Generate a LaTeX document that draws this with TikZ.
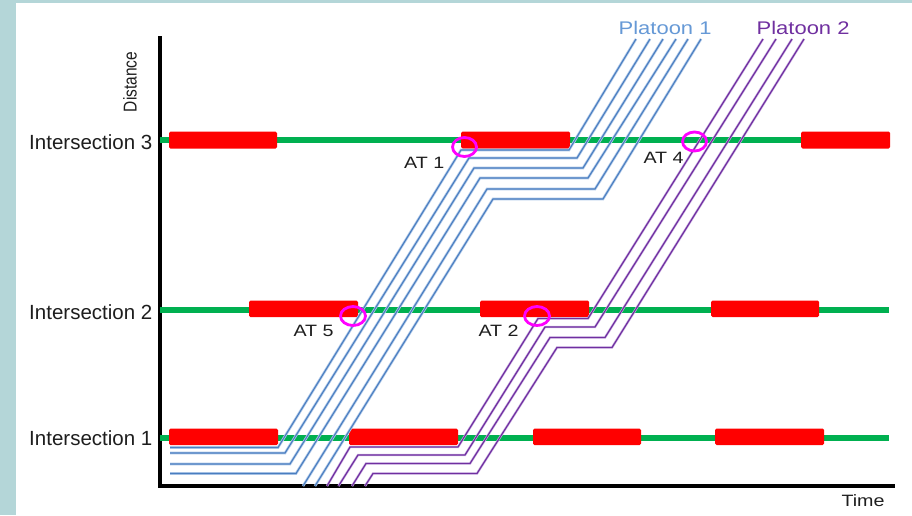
\documentclass[tikz,border=0pt]{standalone}
\usepackage{fontspec}
\setmainfont{Liberation Sans}
\usepackage{graphicx}

\definecolor{frame}{RGB}{180,214,216}
\definecolor{txt}{RGB}{30,30,30}
\definecolor{siggreen}{RGB}{0,176,80}
\definecolor{sigred}{RGB}{255,0,0}
\definecolor{pone}{RGB}{74,126,192}
\definecolor{ponehalo}{RGB}{178,202,234}
\definecolor{ponetext}{RGB}{102,153,214}
\definecolor{ptwo}{RGB}{112,48,160}
\definecolor{ptwohalo}{RGB}{205,180,228}
\definecolor{mark}{RGB}{255,0,255}

\begin{document}
\begin{tikzpicture}[x=1pt,y=-1pt,
  ilbl/.style={font=\fontsize{20.5}{24}\selectfont, text=txt, inner sep=0pt},
  atlbl/.style={font=\fontsize{16.4}{19}\selectfont, text=txt, inner sep=0pt, anchor=base west},
  axisline/.style={draw=black, line width=4.5pt, line join=miter},
  greenline/.style={draw=siggreen, line width=6pt},
  redbar/.style={fill=sigred, rounded corners=1.5pt},
  pathone/.style={draw=pone, line width=1.1pt, preaction={draw=ponehalo, line width=2.6pt}},
  pathtwo/.style={draw=ptwo, line width=1.2pt, preaction={draw=ptwohalo, line width=2.4pt}},
  atmark/.style={draw=mark, line width=2.8pt}
]
\useasboundingbox (0,0) rectangle (912,515);

% background and frame strips
\fill[white] (0,0) rectangle (912,515);
\fill[frame] (0,0) rectangle (16,515);
\fill[frame] (0,0) rectangle (912,3);

% axes
\draw[axisline] (160,36) -- (160,486) -- (895,486);

% intersection lines (green = go)
\draw[greenline] (160,140) -- (889,140);
\draw[greenline] (160,309.5) -- (889,309.5);
\draw[greenline] (160,437.5) -- (889,437.5);

% red phases
\foreach \a/\b in {169/277, 461/570, 801/890}
  \fill[redbar] (\a,131.5) rectangle (\b,148.5);
\foreach \a/\b in {249/358, 480/589, 711/819}
  \fill[redbar] (\a,300.5) rectangle (\b,317);
\foreach \a/\b in {169/278, 349/458, 533/641, 715/824}
  \fill[redbar] (\a,428.5) rectangle (\b,445);

% platoon 1 trajectories
\draw[pathone] (170,447.5) -- (278,447.5) -- (461,150) -- (569,150) -- (636,39);
\draw[pathone] (170,453)   -- (285,453)   -- (469,158) -- (577,158) -- (650,39);
\draw[pathone] (170,464)   -- (290,464)   -- (474,168) -- (583,168) -- (663,39);
\draw[pathone] (170,473.5) -- (296,473.5) -- (480,178) -- (588,178) -- (676,39);
\draw[pathone] (303,486) -- (487,189) -- (595,189) -- (688,39);
\draw[pathone] (315,486) -- (493,199) -- (603,199) -- (701,39);

% platoon 2 trajectories
\draw[pathtwo] (327,486)   -- (350,447)   -- (458,447)   -- (538,318.5) -- (588,318.5) -- (763,39);
\draw[pathtwo] (338.5,486) -- (358,455)   -- (465,455)   -- (545,327)   -- (595,327)   -- (776,39);
\draw[pathtwo] (352,486)   -- (366,463.5) -- (470,463.5) -- (550,337.5) -- (605,337.5) -- (792,39);
\draw[pathtwo] (365,486)   -- (373,473.5) -- (477,473.5) -- (557,347.5) -- (612,347.5) -- (804,39);

% arrival markers
\draw[atmark] (464.5,147) ellipse [x radius=12, y radius=9.5];
\draw[atmark] (694.5,141.5) ellipse [x radius=12, y radius=9.5];
\draw[atmark] (353,316) ellipse [x radius=12.5, y radius=9.5];
\draw[atmark] (537,316) ellipse [x radius=12.5, y radius=9.5];

% labels
\node[ilbl, anchor=base east] (int3) at (152.5,149) {Intersection 3};
\node[ilbl, anchor=base east] (int2) at (152.5,319) {Intersection 2};
\node[ilbl, anchor=base east] (int1) at (152.5,445) {Intersection 1};

\node[inner sep=0pt, text=txt] (dist) at (130,82)
  {\scalebox{1.2}[1]{\rotatebox{90}{\fontsize{15.5}{18}\selectfont Distance}}};
\node[atlbl] (time) at (841.3,506.5) {\scalebox{1.2}[1]{Time}};

\node[inner sep=0pt, anchor=base west, text=ponetext] (pl1) at (618.5,34.5)
  {\scalebox{1.2}[1]{\fontsize{18.3}{21}\selectfont Platoon 1}};
\node[inner sep=0pt, anchor=base west, text=ptwo] (pl2) at (756.5,34.5)
  {\scalebox{1.2}[1]{\fontsize{18.3}{21}\selectfont Platoon 2}};

\node[atlbl] (at1) at (404,168.3) {\scalebox{1.2}[1]{AT 1}};
\node[atlbl] (at4) at (643.3,163.3) {\scalebox{1.2}[1]{AT 4}};
\node[atlbl] (at5) at (293.3,336.7) {\scalebox{1.2}[1]{AT 5}};
\node[atlbl] (at2) at (478.3,336.7) {\scalebox{1.2}[1]{AT 2}};
\end{tikzpicture}
\end{document}
